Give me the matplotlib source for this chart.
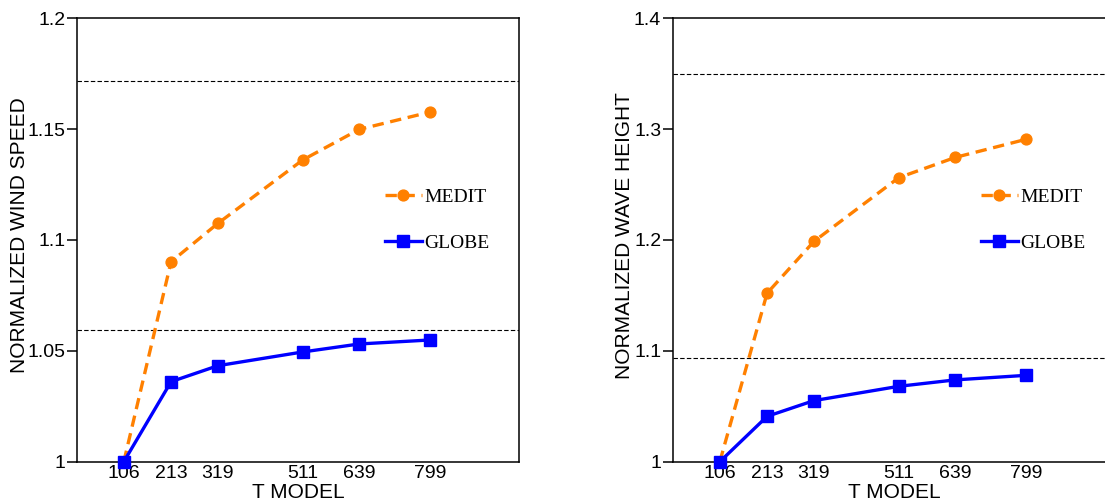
import numpy as np
import matplotlib
matplotlib.use('Agg')
import matplotlib.pyplot as plt

# data
t_model = [106, 213, 319, 511, 639, 799]

wind_medit = [1.0, 1.0902, 1.1075, 1.1361, 1.1499, 1.1577]
wind_globe = [1.0, 1.0361, 1.0433, 1.0495, 1.0531, 1.0549]
wind_refs = [1.1719, 1.0594]
wind_yticks = [1.0, 1.05, 1.1, 1.15, 1.2]
wind_yticklabels = ['1', '1.05', '1.1', '1.15', '1.2']

wave_medit = [1.0, 1.152, 1.1987, 1.2562, 1.2745, 1.2908]
wave_globe = [1.0, 1.0409, 1.0551, 1.068, 1.0738, 1.0779]
wave_refs = [1.350, 1.0936]
wave_yticks = [1.0, 1.1, 1.2, 1.3, 1.4]
wave_yticklabels = ['1', '1.1', '1.2', '1.3', '1.4']

plt.rcParams['font.family'] = ['Liberation Sans', 'DejaVu Sans']

fig = plt.figure(figsize=(11.05, 4.99), dpi=100)
W, H = 1105.0, 499.0
ax1 = fig.add_axes([77 / W, 1 - 461.7 / H, 441.7 / W, 443.4 / H])
ax2 = fig.add_axes([673 / W, 1 - 461.7 / H, 441.7 / W, 443.4 / H])


def draw_panel(ax, medit, globe, refs, yticks, yticklabels, ylabel, ylab_x):
    for r in refs:
        ax.axhline(r, color='black', lw=0.8, ls=(0, (4, 2)), zorder=1)
    ax.plot(t_model, medit, color='#ff8000', ls=(0, (3.4, 2)), lw=2.4,
            marker='o', ms=7.8, label='MEDIT', clip_on=False, zorder=3)
    ax.plot(t_model, globe, color='#0000ff', ls='-', lw=2.4,
            marker='s', ms=8, label='GLOBE', clip_on=False, zorder=4)
    ax.set_xlim(0, 1000)
    ax.set_ylim(yticks[0], yticks[-1])
    ax.set_xticks(t_model)
    ax.set_xticklabels([str(t) for t in t_model])
    ax.set_yticks(yticks)
    ax.set_yticklabels(yticklabels)
    ax.tick_params(axis='x', length=0, pad=2.5, labelsize=14)
    ax.tick_params(axis='y', length=7, width=1.1, direction='out', pad=1.5,
                   labelsize=14)
    for s in ax.spines.values():
        s.set_linewidth(1.1)
    ax.set_xlabel('T MODEL', fontsize=15)
    ax.xaxis.set_label_coords(0.5, -0.047)
    ax.set_ylabel(ylabel, fontsize=15)
    ax.yaxis.set_label_coords(ylab_x, 0.51)
    ax.legend(loc='upper left', bbox_to_anchor=(0.697, 0.616), frameon=False,
              borderaxespad=0, borderpad=0, handlelength=1.9,
              handletextpad=0.15, labelspacing=1.45, markerscale=1.0,
              prop={'family': 'Liberation Serif', 'size': 14})


draw_panel(ax1, wind_medit, wind_globe, wind_refs, wind_yticks,
           wind_yticklabels, 'NORMALIZED WIND SPEED', -0.108)
draw_panel(ax2, wave_medit, wave_globe, wave_refs, wave_yticks,
           wave_yticklabels, 'NORMALIZED WAVE HEIGHT', -0.088)

fig.savefig('out.png', dpi=100)
